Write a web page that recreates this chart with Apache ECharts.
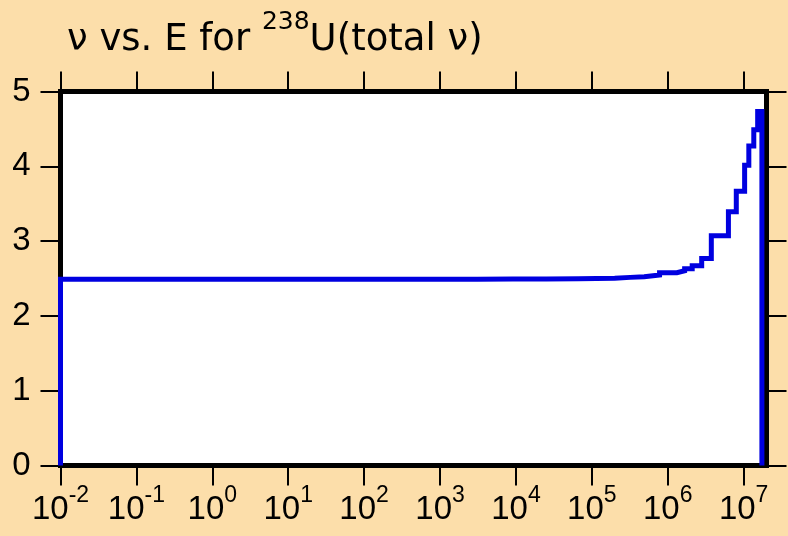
<!DOCTYPE html>
<html>
<head>
<meta charset="utf-8">
<script src="https://cdn.jsdelivr.net/npm/echarts@6/dist/echarts.min.js"></script>
<style>
html,body{margin:0;padding:0;background:#fcdeaa;}
#chart{width:788px;height:536px;}
</style>
</head>
<body>
<div id="chart"></div>
<script>
// Bin edges (energy, eV) and nu values for each bin
var binEdges = [0.01, 3.1e3, 9.1e3, 2.5e4, 6.6e4, 2.0e5, 3.2e5, 4.9e5, 7.8e5, 1.32e6, 1.67e6,
  2.1e6, 2.8e6, 3.75e6, 6.3e6, 8.0e6, 1.03e7, 1.17e7, 1.36e7, 1.53e7, 1.74e7];
var nuValues = [2.490, 2.492, 2.494, 2.498, 2.502, 2.515, 2.524, 2.547, 2.578, 2.604,
  2.631, 2.671, 2.769, 3.071, 3.391, 3.667, 4.013, 4.271, 4.489, 4.733];
var xTickValues = [1e-2, 1e-1, 1e0, 1e1, 1e2, 1e3, 1e4, 1e5, 1e6, 1e7];
var xMin = 0.01, xMax = 2e7;
var yMin = 0, yMax = 5, yStep = 1;

var seriesData = [[binEdges[0], 0]];
for (var i = 0; i < nuValues.length; i++) seriesData.push([binEdges[i], nuValues[i]]);
var lastE = binEdges[binEdges.length - 1];
seriesData.push([lastE, nuValues[nuValues.length - 1]]);
seriesData.push([lastE, 0]);

var FONT = 'Liberation Sans, Arial, sans-serif';
var TFONT = 'DejaVu Sans, sans-serif';
function expLabel(v) {
  var e = Math.round(Math.log10(v));
  return '{b|10}{s|' + e + '}';
}
var axisLineStyle = { color: '#000', width: 5, cap: 'square' };

var chart = echarts.init(document.getElementById('chart'));
chart.setOption({
  backgroundColor: '#fcdeaa',
  animation: false,
  title: {
    left: 62, top: 5,
    text: '{a|\u03bd vs. E for }{s|238}{a|U(total \u03bd)}',
    textStyle: {
      fontSize: 37, fontWeight: 'normal', fontFamily: TFONT, color: '#000',
      rich: {
        a: { fontSize: 37, fontWeight: 'normal', fontFamily: TFONT, color: '#000', verticalAlign: 'top', padding: [12, 0, 0, 0] },
        s: { fontSize: 25, fontWeight: 'normal', fontFamily: TFONT, color: '#000', verticalAlign: 'top' }
      }
    }
  },
  grid: {
    left: 60.5, right: 21.5, top: 91.5, bottom: 70.5,
    show: true, backgroundColor: '#ffffff', borderWidth: 0,
    outerBoundsMode: 'none', containLabel: false
  },
  xAxis: [{
    type: 'log', logBase: 10, min: xMin, max: xMax, position: 'bottom',
    axisLine: { show: true, onZero: false, lineStyle: axisLineStyle },
    axisTick: { show: true, customValues: xTickValues, length: 20, lineStyle: { color: '#000', width: 2 } },
    axisLabel: {
      show: true, customValues: xTickValues, margin: 27.5, formatter: expLabel,
      rich: {
        b: { fontSize: 33, fontFamily: FONT, color: '#000', lineHeight: 34 },
        s: { fontSize: 23, fontFamily: FONT, color: '#000', lineHeight: 23, padding: [0, 0, 28, 0] }
      }
    },
    splitLine: { show: false }, minorTick: { show: false }
  }, {
    type: 'log', logBase: 10, min: xMin, max: xMax, position: 'top',
    axisLine: { show: true, onZero: false, lineStyle: axisLineStyle },
    axisTick: { show: true, customValues: xTickValues, length: 20, lineStyle: { color: '#000', width: 2 } },
    axisLabel: { show: false },
    splitLine: { show: false }
  }],
  yAxis: [{
    type: 'value', min: yMin, max: yMax, interval: yStep, position: 'left',
    axisLine: { show: true, onZero: false, lineStyle: axisLineStyle },
    axisTick: { show: true, length: 20, lineStyle: { color: '#000', width: 2 } },
    axisLabel: { show: true, margin: 30, fontSize: 33, fontFamily: FONT, color: '#000' },
    splitLine: { show: false }
  }, {
    type: 'value', min: yMin, max: yMax, interval: yStep, position: 'right',
    axisLine: { show: true, onZero: false, lineStyle: axisLineStyle },
    axisTick: { show: true, length: 20, lineStyle: { color: '#000', width: 2 } },
    axisLabel: { show: false },
    splitLine: { show: false }
  }],
  series: [{
    type: 'line', xAxisIndex: 0, yAxisIndex: 0,
    step: 'end', showSymbol: false, symbol: 'none',
    data: seriesData,
    lineStyle: { color: '#0000e0', width: 5, join: 'miter' },
    clip: false, z: 3
  }]
});
</script>
</body>
</html>
